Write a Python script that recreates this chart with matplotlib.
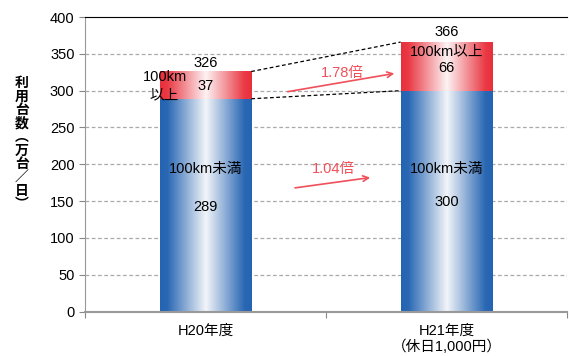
import numpy as np
import matplotlib.pyplot as plt
from matplotlib.colors import LinearSegmentedColormap

plt.rcParams['font.family'] = ['Liberation Sans', 'Noto Sans CJK JP']

# data
categories = ['H20年度', 'H21年度\n（休日1,000円）']
under100 = [289, 300]
over100 = [37, 66]
totals = [326, 366]
ratio_labels = ['1.04倍', '1.78倍']

bar_w = 0.38
blue_cm = LinearSegmentedColormap.from_list(
    'b', [(0, '#2464b2'), (0.08, '#2a68b4'), (0.5, '#f2f5f9'), (0.92, '#2a68b4'), (1, '#2464b2')])
red_cm = LinearSegmentedColormap.from_list(
    'r', [(0, '#e8303c'), (0.08, '#ea3a45'), (0.5, '#fdf2f3'), (0.92, '#ea3a45'), (1, '#e8303c')])
grad = np.linspace(0, 1, 256).reshape(1, -1)

fig = plt.figure(figsize=(5.69, 3.56), dpi=100)
ax = fig.add_axes([0.1494, 0.1247, 0.847, 0.8275])

for i in range(len(categories)):
    x0, x1 = i - bar_w / 2, i + bar_w / 2
    ax.imshow(grad, cmap=blue_cm, extent=(x0, x1, 0, under100[i]), aspect='auto', zorder=2)
    ax.imshow(grad, cmap=red_cm, extent=(x0, x1, under100[i], totals[i]), aspect='auto', zorder=2)

# connecting dashed lines
ax.plot([bar_w / 2, 1 - bar_w / 2], [totals[0], totals[1]], color='black', ls=(0, (3, 2)), lw=0.9, zorder=3)
ax.plot([bar_w / 2, 1 - bar_w / 2], [under100[0], under100[1]], color='black', ls=(0, (3, 2)), lw=0.9, zorder=3)

# labels in bars
fs = 10.5
ax.text(0, 338, str(totals[0]), ha='center', va='center', fontsize=fs, zorder=4)
ax.text(-0.17, 318, '100km', ha='center', va='center', fontsize=fs, zorder=4)
ax.text(-0.17, 294, '以上', ha='center', va='center', fontsize=fs, zorder=4)
ax.text(0, 306, str(over100[0]), ha='center', va='center', fontsize=fs, zorder=4)
ax.text(0, 194, '100km未満', ha='center', va='center', fontsize=fs, zorder=4)
ax.text(0, 142, str(under100[0]), ha='center', va='center', fontsize=fs, zorder=4)

ax.text(1, 380, str(totals[1]), ha='center', va='center', fontsize=fs, zorder=4)
ax.text(1, 353, '100km以上', ha='center', va='center', fontsize=fs, zorder=4)
ax.text(1, 331, str(over100[1]), ha='center', va='center', fontsize=fs, zorder=4)
ax.text(1, 194, '100km未満', ha='center', va='center', fontsize=fs, zorder=4)
ax.text(1, 149, str(under100[1]), ha='center', va='center', fontsize=fs, zorder=4)

# ratio arrows
red = '#f0505a'
ax.annotate('', xy=(0.695, 182.5), xytext=(0.36, 167.5),
            arrowprops=dict(arrowstyle='->', color=red, lw=1.2), zorder=4)
ax.text(0.53, 193, ratio_labels[0], color=red, ha='center', va='center', fontsize=fs, zorder=4)
ax.annotate('', xy=(0.795, 324), xytext=(0.33, 298),
            arrowprops=dict(arrowstyle='->', color=red, lw=1.2), zorder=4)
ax.text(0.57, 324, ratio_labels[1], color=red, ha='center', va='center', fontsize=fs, zorder=4)

# axes styling
ax.set_xlim(-0.5, 1.5)
ax.set_ylim(0, 400)
ax.set_yticks(np.arange(0, 401, 50))
ax.tick_params(axis='y', labelsize=fs, color='#888888', length=4)
ax.set_xticks([-0.5, 0.5, 1.5])
ax.set_xticklabels([])
ax.set_xticks([0, 1], minor=True)
ax.set_xticklabels(categories, minor=True, fontsize=fs, linespacing=1.1)
ax.tick_params(axis='x', which='major', color='#888888', length=4)
ax.tick_params(axis='x', which='minor', length=0, pad=9)
for y in range(50, 400, 50):
    ax.axhline(y, color='#aaaaaa', ls=(0, (3, 2)), lw=0.9, zorder=1)
ax.spines['right'].set_visible(False)
ax.spines['top'].set_color('black')
ax.spines['left'].set_color('#999999')
ax.spines['bottom'].set_color('#999999')
ax.spines['bottom'].set_linewidth(1.5)

fig.text(22 / 569, 0.596, '\n'.join('利用台数︵万台／日︶'), ha='center', va='center',
         fontsize=10, fontweight='bold', linespacing=0.95)

fig.savefig('out.png', dpi=100)
